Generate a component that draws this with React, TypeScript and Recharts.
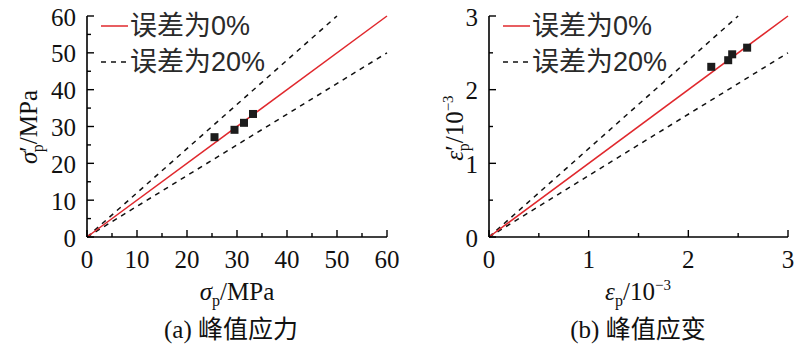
import { ComposedChart, Line, Scatter, XAxis, YAxis } from "recharts";

// (a) peak stress, MPa
const stressTicks = [0, 5, 10, 15, 20, 25, 30, 35, 40, 45, 50, 55, 60];
const stressLabels = [0, 10, 20, 30, 40, 50, 60];
const stressTest = [25.5, 29.5, 31.4, 33.2];
const stressPred = [27.1, 29.1, 31.0, 33.4];
const stressExactX = [0, 60];
const stressExactY = [0, 60];
const stressUpperX = [0, 50];
const stressUpperY = [0, 60];
const stressLowerX = [0, 60];
const stressLowerY = [0, 50];

// (b) peak strain, 10^-3
const strainTicks = [0, 0.5, 1, 1.5, 2, 2.5, 3];
const strainLabels = [0, 1, 2, 3];
const strainTest = [2.23, 2.4, 2.44, 2.59];
const strainPred = [2.31, 2.4, 2.48, 2.57];
const strainExactX = [0, 3];
const strainExactY = [0, 3];
const strainUpperX = [0, 2.5];
const strainUpperY = [0, 3];
const strainLowerX = [0, 3];
const strainLowerY = [0, 2.5];

const legendLabels = ["误差为0%", "误差为20%"];

const RED = "#e0282d";
const SERIF = "Liberation Serif, Times New Roman, DejaVu Serif, serif";
const CJK = "Noto Sans CJK SC, sans-serif";
const SANS = "Liberation Sans, Noto Sans CJK SC, sans-serif";

const zip = (xs: number[], ys: number[]) => xs.map((x, i) => ({ x, y: ys[i] }));

const XTick = (props: any) => {
	const { x, y, payload, labels } = props;
	const major = labels.includes(payload.value);
	return (
		<g>
			<line x1={x} x2={x} y1={y} y2={y - (major ? 7 : 4)} stroke="#000" strokeWidth={1.4} />
			{major && (
				<text x={x} y={y + 31} textAnchor="middle" fill="#111" style={{ fontFamily: SERIF, fontSize: 25 }}>
					{payload.value}
				</text>
			)}
		</g>
	);
};

const YTick = (props: any) => {
	const { x, y, payload, labels } = props;
	const major = labels.includes(payload.value);
	return (
		<g>
			<line x1={x} x2={x + (major ? 7 : 4)} y1={y} y2={y} stroke="#000" strokeWidth={1.4} />
			{major && (
				<text x={x - 11} y={y} dy="0.38em" textAnchor="end" fill="#111" style={{ fontFamily: SERIF, fontSize: 25 }}>
					{payload.value}
				</text>
			)}
		</g>
	);
};

const Square = (props: any) => (
	<rect x={props.cx - 4} y={props.cy - 4} width={8} height={8} fill="#1c1c1c" />
);

type PanelProps = {
	left: number;
	right: number;
	max: number;
	ticks: number[];
	labels: number[];
	points: { x: number; y: number }[];
	exact: { x: number; y: number }[];
	upper: { x: number; y: number }[];
	lower: { x: number; y: number }[];
};

function Panel(p: PanelProps) {
	return (
		<ComposedChart
			width={400}
			height={347}
			margin={{ top: 16, right: p.right, bottom: 80, left: p.left - 60 }}
		>
			<XAxis
				type="number"
				dataKey="x"
				domain={[0, p.max]}
				ticks={p.ticks}
				interval={0}
				height={30}
				tickSize={0}
				tickMargin={0}
				tickLine={false}
				axisLine={{ stroke: "#000", strokeWidth: 1.6 }}
				tick={(t: any) => <XTick {...t} labels={p.labels} />}
			/>
			<YAxis
				type="number"
				dataKey="y"
				domain={[0, p.max]}
				ticks={p.ticks}
				interval={0}
				width={60}
				tickSize={0}
				tickMargin={0}
				tickLine={false}
				axisLine={{ stroke: "#000", strokeWidth: 1.6 }}
				tick={(t: any) => <YTick {...t} labels={p.labels} />}
			/>
			<Line data={p.upper} dataKey="y" type="linear" stroke="#111" strokeWidth={1.5} strokeDasharray="5 5" dot={false} activeDot={false} isAnimationActive={false} />
			<Line data={p.lower} dataKey="y" type="linear" stroke="#111" strokeWidth={1.5} strokeDasharray="5 5" dot={false} activeDot={false} isAnimationActive={false} />
			<Line data={p.exact} dataKey="y" type="linear" stroke={RED} strokeWidth={1.5} dot={false} activeDot={false} isAnimationActive={false} />
			<Scatter data={p.points} dataKey="y" shape={Square} isAnimationActive={false} />
		</ComposedChart>
	);
}

function Legend({ x }: { x: number }) {
	const txt = { fontFamily: SANS, fontSize: 27 };
	return (
		<g>
			<line x1={x} x2={x + 27} y1={26} y2={26} stroke={RED} strokeWidth={1.5} />
			<text x={x + 29} y={26} dominantBaseline="central" fill="#2a2a2a" style={txt}>
				{legendLabels[0]}
			</text>
			<line x1={x} x2={x + 27} y1={62} y2={62} stroke="#111" strokeWidth={1.5} strokeDasharray="5 5" />
			<text x={x + 29} y={62} dominantBaseline="central" fill="#2a2a2a" style={txt}>
				{legendLabels[1]}
			</text>
		</g>
	);
}

const overlay: React.CSSProperties = { position: "absolute", left: 0, top: 0, pointerEvents: "none" };
const serif = { fontFamily: SERIF, fontSize: 25 };

export default function App() {
	return (
		<div style={{ position: "absolute", left: 0, top: 0, width: 800, height: 347, background: "#fff" }}>
			<div style={{ position: "absolute", left: 0, top: 0 }}>
				<Panel
					left={87}
					right={13}
					max={60}
					ticks={stressTicks}
					labels={stressLabels}
					points={zip(stressTest, stressPred)}
					exact={zip(stressExactX, stressExactY)}
					upper={zip(stressUpperX, stressUpperY)}
					lower={zip(stressLowerX, stressLowerY)}
				/>
				<svg width={400} height={347} style={overlay}>
					<Legend x={101} />
					<text x={37} y={127} transform="rotate(-90 37 127)" textAnchor="middle" fill="#111" style={serif}>
						<tspan fontStyle="italic">σ</tspan>
						<tspan>′</tspan>
						<tspan fontSize={16} dx={-6} dy={6}>p</tspan>
						<tspan dy={-6}>/MPa</tspan>
					</text>
					<text x={237} y={300} textAnchor="middle" fill="#111" style={serif}>
						<tspan fontStyle="italic">σ</tspan>
						<tspan fontSize={16} dy={6}>p</tspan>
						<tspan dy={-6}>/MPa</tspan>
					</text>
					<text x={231} y={338} textAnchor="middle" fill="#111" style={serif}>
						(a) <tspan style={{ fontFamily: CJK }}>峰值应力</tspan>
					</text>
				</svg>
			</div>
			<div style={{ position: "absolute", left: 400, top: 0 }}>
				<Panel
					left={89}
					right={12}
					max={3}
					ticks={strainTicks}
					labels={strainLabels}
					points={zip(strainTest, strainPred)}
					exact={zip(strainExactX, strainExactY)}
					upper={zip(strainUpperX, strainUpperY)}
					lower={zip(strainLowerX, strainLowerY)}
				/>
				<svg width={400} height={347} style={overlay}>
					<Legend x={103} />
					<text x={63} y={128} transform="rotate(-90 63 128)" textAnchor="middle" fill="#111" style={serif}>
						<tspan fontStyle="italic">ε</tspan>
						<tspan>′</tspan>
						<tspan fontSize={16} dx={-6} dy={6}>p</tspan>
						<tspan dy={-6}>/10</tspan>
						<tspan fontSize={15} dy={-10}>−3</tspan>
					</text>
					<text x={238} y={300} textAnchor="middle" fill="#111" style={serif}>
						<tspan fontStyle="italic">ε</tspan>
						<tspan fontSize={16} dy={6}>p</tspan>
						<tspan dy={-6}>/10</tspan>
						<tspan fontSize={15} dy={-10}>−3</tspan>
					</text>
					<text x={238} y={338} textAnchor="middle" fill="#111" style={serif}>
						(b) <tspan style={{ fontFamily: CJK }}>峰值应变</tspan>
					</text>
				</svg>
			</div>
		</div>
	);
}
